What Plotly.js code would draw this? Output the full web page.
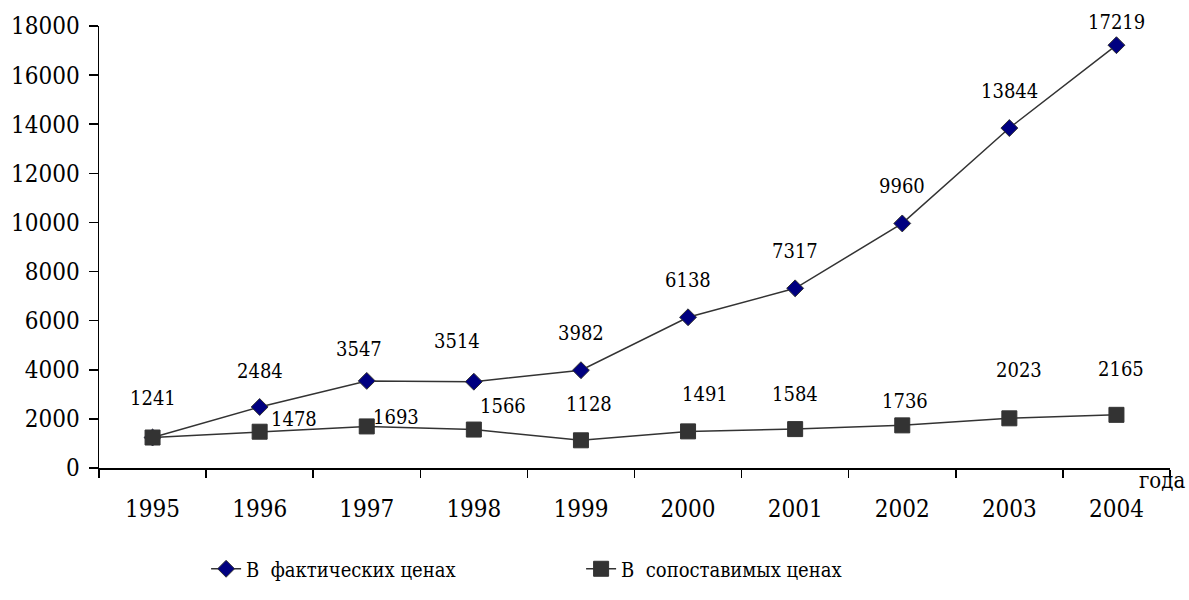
<!DOCTYPE html>
<html>
<head>
<meta charset="utf-8">
<script src="https://cdn.plot.ly/plotly-3.0.1.min.js"></script>
<style>html,body{margin:0;padding:0;background:#fff;}#chart{width:1189px;height:600px;}</style>
</head>
<body>
<div id="chart"></div>
<script>
const years = ['1995','1996','1997','1998','1999','2000','2001','2002','2003','2004'];
const actualPrices = [1241, 2484, 3547, 3514, 3982, 6138, 7317, 9960, 13844, 17219];
const comparablePrices = [1241, 1478, 1693, 1566, 1128, 1491, 1584, 1736, 2023, 2165];
const seriesNames = ['В\u00a0 фактических ценах', 'В\u00a0 сопоставимых ценах'];
const axisNote = 'года';

// label offsets (px) for data labels
const actualShiftX = [0, 0, -8, -17, 0, 0, 0, 0, 0, 0];
const actualShiftY = [40, 36, 32, 41, 37, 37, 37, 37, 37, 23];
const compShiftX = [null, 34, 29, 29, 8, 17, 0, 3, 10, 5];
const compShiftY = [null, 13, 9, 24, 36, 37, 35, 24, 48, 46];

const FONT = 'DejaVu Serif Condensed, DejaVu Serif, serif';

const traces = [
  {
    x: years, y: actualPrices, name: seriesNames[0], type: 'scatter', mode: 'lines+markers',
    line: {color: '#333333', width: 1.5},
    marker: {symbol: 'diamond', size: 13, color: '#000080', line: {color: '#333333', width: 1}}
  },
  {
    x: years, y: comparablePrices, name: seriesNames[1], type: 'scatter', mode: 'lines+markers',
    line: {color: '#333333', width: 1.5},
    marker: {symbol: 'square', size: 15, color: '#333333', line: {color: '#333333', width: 1}}
  }
];

const annotations = [];
years.forEach((yr, i) => {
  annotations.push({
    x: i, y: actualPrices[i], xref: 'x', yref: 'y', text: String(actualPrices[i]),
    showarrow: false, xshift: actualShiftX[i], yshift: actualShiftY[i],
    font: {family: FONT, size: 20, color: '#000'}
  });
  if (compShiftX[i] !== null) {
    annotations.push({
      x: i, y: comparablePrices[i], xref: 'x', yref: 'y', text: String(comparablePrices[i]),
      showarrow: false, xshift: compShiftX[i], yshift: compShiftY[i],
      font: {family: FONT, size: 20, color: '#000'}
    });
  }
});
annotations.push({
  x: 1.0159, y: -0.029, xref: 'paper', yref: 'paper', xanchor: 'right', yanchor: 'middle',
  text: axisNote, showarrow: false, font: {family: FONT, size: 22, color: '#000'}
});

const layout = {
  width: 1189, height: 600,
  margin: {l: 99, r: 19, t: 26, b: 128},
  paper_bgcolor: '#fff', plot_bgcolor: '#fff',
  font: {family: FONT, color: '#000'},
  showlegend: true,
  legend: {
    orientation: 'h', x: 0.1, xanchor: 'left', y: -0.228, yanchor: 'middle',
    font: {family: FONT, size: 20, color: '#000'}, entrywidth: 330, tracegroupgap: 0
  },
  xaxis: {
    type: 'category', range: [-0.5, 9.5], tickson: 'boundaries',
    ticks: 'outside', ticklen: 8, tickwidth: 1.5, tickcolor: '#000',
    showline: true, linecolor: '#000', linewidth: 1.5, showgrid: false, zeroline: false,
    tickfont: {family: FONT, size: 24, color: '#000'}, ticklabelstandoff: 19
  },
  yaxis: {
    range: [0, 18000], dtick: 2000, tick0: 0, tickformat: 'd',
    ticks: 'outside', ticklen: 9, tickwidth: 1.5, tickcolor: '#000',
    showline: true, linecolor: '#000', linewidth: 1.5, showgrid: false, zeroline: false,
    tickfont: {family: FONT, size: 24, color: '#000'}, ticklabelstandoff: 4
  },
  annotations: annotations
};

Plotly.newPlot('chart', traces, layout, {displayModeBar: false, staticPlot: true});
</script>
</body>
</html>
